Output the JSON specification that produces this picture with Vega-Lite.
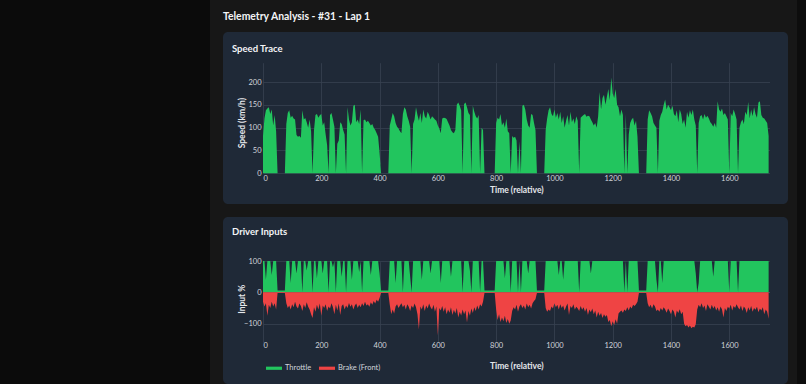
{
"$schema": "https://vega.github.io/schema/vega-lite/v6.json",
"background": "#171717",
"padding": 0,
"spacing": 13,
"resolve": {"scale": {"color": "independent"}, "legend": {"color": "independent"}},
"config": {
  "view": {"stroke": null},
  "font": "Lato",
  "axis": {"domain": false, "ticks": false, "tickSize": 0, "labelFont": "Lato", "labelFontSize": 7.5, "labelColor": "#d1d5db", "titleFont": "Lato", "titleFontSize": 8.5, "titleFontWeight": "bold", "titleColor": "#e5e7eb", "gridColor": "#374151", "gridWidth": 0.8},
  "legend": {"labelFont": "Lato"}
},
"datasets": {"tel": [
{"t":0,"s":82,"h":100,"b":-30},{"t":5,"s":120,"h":100,"b":-45},{"t":10,"s":138,"h":40,"b":-35},{"t":15,"s":142,"h":100,"b":-75},{"t":20,"s":145,"h":100,"b":-40},{"t":25,"s":130,"h":100,"b":-50},{"t":30,"s":140,"h":55,"b":-30},{"t":35,"s":105,"h":100,"b":-45},{"t":40,"s":128,"h":100,"b":-35},{"t":45,"s":92,"h":100,"b":-55},
{"t":50,"s":0,"h":6,"b":-2},{"t":55,"s":0,"h":6,"b":-2},{"t":60,"s":0,"h":6,"b":-2},{"t":65,"s":0,"h":6,"b":-2},{"t":70,"s":0,"h":6,"b":-2},{"t":75,"s":0,"h":6,"b":-2},
{"t":80,"s":108,"h":100,"b":-35},{"t":85,"s":132,"h":100,"b":-50},{"t":90,"s":138,"h":100,"b":-42},{"t":95,"s":122,"h":30,"b":-55},{"t":100,"s":126,"h":100,"b":-38},{"t":105,"s":120,"h":100,"b":-48},{"t":110,"s":118,"h":100,"b":-30},{"t":115,"s":84,"h":60,"b":-45},{"t":120,"s":80,"h":100,"b":-52},{"t":125,"s":82,"h":100,"b":-36},{"t":130,"s":78,"h":100,"b":-44},{"t":135,"s":138,"h":0,"b":-60},{"t":140,"s":118,"h":100,"b":-38},{"t":145,"s":121,"h":100,"b":-50},{"t":150,"s":112,"h":70,"b":-32},{"t":155,"s":100,"h":100,"b":-46},{"t":160,"s":118,"h":100,"b":-55},{"t":165,"s":92,"h":100,"b":-70},{"t":170,"s":0,"h":0,"b":-82},{"t":175,"s":95,"h":100,"b":-48},{"t":180,"s":128,"h":100,"b":-62},{"t":185,"s":130,"h":45,"b":-40},{"t":190,"s":122,"h":100,"b":-55},{"t":195,"s":127,"h":100,"b":-36},{"t":200,"s":130,"h":100,"b":-75},{"t":205,"s":105,"h":60,"b":-42},{"t":210,"s":112,"h":100,"b":-50},{"t":215,"s":85,"h":100,"b":-38},{"t":220,"s":62,"h":100,"b":-60},{"t":225,"s":0,"h":0,"b":-45},{"t":230,"s":128,"h":100,"b":-52},{"t":235,"s":132,"h":100,"b":-35},{"t":240,"s":118,"h":80,"b":-48},{"t":245,"s":102,"h":100,"b":-70},{"t":250,"s":0,"h":0,"b":-40},{"t":255,"s":65,"h":100,"b":-58},{"t":260,"s":72,"h":100,"b":-36},{"t":265,"s":112,"h":100,"b":-72},{"t":270,"s":108,"h":50,"b":-44},{"t":275,"s":95,"h":100,"b":-38},{"t":280,"s":85,"h":100,"b":-55},{"t":285,"s":0,"h":0,"b":-42},{"t":290,"s":145,"h":100,"b":-50},{"t":295,"s":118,"h":100,"b":-34},{"t":300,"s":105,"h":100,"b":-46},{"t":305,"s":112,"h":40,"b":-38},{"t":310,"s":148,"h":100,"b":-55},{"t":315,"s":150,"h":100,"b":-42},{"t":320,"s":112,"h":100,"b":-36},{"t":325,"s":118,"h":100,"b":-50},{"t":330,"s":108,"h":65,"b":-40},{"t":335,"s":140,"h":100,"b":-48},{"t":340,"s":0,"h":0,"b":-35},{"t":345,"s":116,"h":100,"b":-44},{"t":350,"s":118,"h":100,"b":-30},{"t":355,"s":112,"h":100,"b":-42},{"t":360,"s":115,"h":100,"b":-38},{"t":365,"s":110,"h":100,"b":-46},{"t":370,"s":105,"h":55,"b":-32},{"t":375,"s":108,"h":100,"b":-40},{"t":380,"s":100,"h":100,"b":-28},{"t":385,"s":95,"h":100,"b":-36},{"t":390,"s":88,"h":100,"b":-24},{"t":395,"s":80,"h":100,"b":-30},{"t":400,"s":45,"h":60,"b":-18},
{"t":405,"s":0,"h":6,"b":-2},{"t":410,"s":0,"h":6,"b":-2},{"t":415,"s":0,"h":6,"b":-2},{"t":420,"s":0,"h":6,"b":-2},{"t":425,"s":0,"h":6,"b":-2},{"t":430,"s":0,"h":6,"b":-2},
{"t":435,"s":105,"h":100,"b":-40},{"t":440,"s":118,"h":100,"b":-70},{"t":445,"s":132,"h":100,"b":-55},{"t":450,"s":125,"h":100,"b":-68},{"t":455,"s":110,"h":30,"b":-45},{"t":460,"s":102,"h":100,"b":-38},{"t":465,"s":98,"h":100,"b":-50},{"t":470,"s":92,"h":100,"b":-42},{"t":475,"s":88,"h":100,"b":-35},{"t":480,"s":130,"h":0,"b":-48},{"t":485,"s":145,"h":100,"b":-40},{"t":490,"s":140,"h":100,"b":-55},{"t":495,"s":125,"h":100,"b":-38},{"t":500,"s":115,"h":100,"b":-46},{"t":505,"s":102,"h":50,"b":-60},{"t":510,"s":0,"h":0,"b":-42},{"t":515,"s":108,"h":100,"b":-50},{"t":520,"s":118,"h":100,"b":-36},{"t":525,"s":145,"h":100,"b":-48},{"t":530,"s":128,"h":100,"b":-70},{"t":535,"s":115,"h":100,"b":-119},{"t":540,"s":132,"h":100,"b":-45},{"t":545,"s":110,"h":40,"b":-55},{"t":550,"s":140,"h":100,"b":-38},{"t":555,"s":125,"h":100,"b":-60},{"t":560,"s":120,"h":100,"b":-42},{"t":565,"s":135,"h":100,"b":-52},{"t":570,"s":128,"h":100,"b":-36},{"t":575,"s":118,"h":60,"b":-48},{"t":580,"s":125,"h":100,"b":-55},{"t":585,"s":122,"h":100,"b":-40},{"t":590,"s":118,"h":100,"b":-62},{"t":595,"s":115,"h":100,"b":-45},{"t":600,"s":105,"h":100,"b":-138},{"t":605,"s":98,"h":100,"b":-50},{"t":610,"s":88,"h":30,"b":-58},{"t":615,"s":120,"h":100,"b":-44},{"t":620,"s":122,"h":100,"b":-62},{"t":625,"s":121,"h":100,"b":-48},{"t":630,"s":119,"h":100,"b":-70},{"t":635,"s":112,"h":100,"b":-55},{"t":640,"s":105,"h":100,"b":-65},{"t":645,"s":95,"h":50,"b":-48},{"t":650,"s":90,"h":100,"b":-72},{"t":655,"s":88,"h":100,"b":-56},{"t":660,"s":95,"h":100,"b":-68},{"t":665,"s":150,"h":100,"b":-50},{"t":670,"s":155,"h":100,"b":-80},{"t":675,"s":148,"h":100,"b":-62},{"t":680,"s":138,"h":100,"b":-74},{"t":685,"s":0,"h":0,"b":-55},{"t":690,"s":152,"h":100,"b":-70},{"t":695,"s":155,"h":100,"b":-58},{"t":700,"s":145,"h":100,"b":-96},{"t":705,"s":132,"h":100,"b":-60},{"t":710,"s":128,"h":70,"b":-75},{"t":715,"s":0,"h":0,"b":-52},{"t":720,"s":148,"h":100,"b":-66},{"t":725,"s":135,"h":100,"b":-48},{"t":730,"s":125,"h":100,"b":-60},{"t":735,"s":120,"h":100,"b":-42},{"t":740,"s":128,"h":100,"b":-55},{"t":745,"s":0,"h":0,"b":-38},{"t":750,"s":100,"h":100,"b":-45},{"t":755,"s":95,"h":100,"b":-30},
{"t":760,"s":0,"h":6,"b":-2},{"t":765,"s":0,"h":6,"b":-2},{"t":770,"s":0,"h":6,"b":-2},{"t":775,"s":0,"h":6,"b":-2},{"t":780,"s":0,"h":6,"b":-2},{"t":785,"s":0,"h":6,"b":-2},{"t":790,"s":0,"h":6,"b":-2},{"t":795,"s":0,"h":6,"b":-2},
{"t":800,"s":110,"h":100,"b":-55},{"t":805,"s":122,"h":100,"b":-88},{"t":810,"s":118,"h":100,"b":-70},{"t":815,"s":130,"h":100,"b":-95},{"t":820,"s":105,"h":100,"b":-80},{"t":825,"s":112,"h":100,"b":-92},{"t":830,"s":100,"h":45,"b":-75},{"t":835,"s":120,"h":100,"b":-98},{"t":840,"s":92,"h":100,"b":-85},{"t":845,"s":88,"h":100,"b":-100},{"t":850,"s":0,"h":0,"b":-90},{"t":855,"s":82,"h":100,"b":-60},{"t":860,"s":78,"h":100,"b":-48},{"t":865,"s":80,"h":100,"b":-55},{"t":870,"s":72,"h":100,"b":-40},{"t":875,"s":0,"h":0,"b":-62},{"t":880,"s":70,"h":100,"b":-45},{"t":885,"s":0,"h":0,"b":-38},{"t":890,"s":148,"h":100,"b":-50},{"t":895,"s":150,"h":100,"b":-42},{"t":900,"s":140,"h":100,"b":-55},{"t":905,"s":118,"h":100,"b":-36},{"t":910,"s":105,"h":60,"b":-48},{"t":915,"s":100,"h":100,"b":-40},{"t":920,"s":130,"h":100,"b":-52},{"t":925,"s":128,"h":100,"b":-35},{"t":930,"s":110,"h":100,"b":-28},{"t":935,"s":95,"h":100,"b":-22},
{"t":940,"s":0,"h":6,"b":-2},{"t":945,"s":0,"h":6,"b":-2},{"t":950,"s":0,"h":6,"b":-2},{"t":955,"s":0,"h":6,"b":-2},{"t":960,"s":0,"h":6,"b":-2},{"t":965,"s":0,"h":6,"b":-2},
{"t":970,"s":95,"h":100,"b":-50},{"t":975,"s":120,"h":100,"b":-62},{"t":980,"s":138,"h":100,"b":-55},{"t":985,"s":145,"h":100,"b":-60},{"t":990,"s":130,"h":100,"b":-45},{"t":995,"s":125,"h":100,"b":-52},{"t":1000,"s":140,"h":100,"b":-35},{"t":1005,"s":122,"h":100,"b":-48},{"t":1010,"s":132,"h":100,"b":-40},{"t":1015,"s":118,"h":55,"b":-55},{"t":1020,"s":135,"h":100,"b":-38},{"t":1025,"s":110,"h":100,"b":-50},{"t":1030,"s":125,"h":40,"b":-42},{"t":1035,"s":100,"h":100,"b":-58},{"t":1040,"s":115,"h":100,"b":-45},{"t":1045,"s":128,"h":100,"b":-36},{"t":1050,"s":105,"h":100,"b":-72},{"t":1055,"s":135,"h":100,"b":-44},{"t":1060,"s":112,"h":100,"b":-50},{"t":1065,"s":120,"h":100,"b":-38},{"t":1070,"s":108,"h":100,"b":-55},{"t":1075,"s":125,"h":100,"b":-46},{"t":1080,"s":115,"h":100,"b":-52},{"t":1085,"s":0,"h":0,"b":-60},{"t":1090,"s":122,"h":100,"b":-44},{"t":1095,"s":125,"h":100,"b":-56},{"t":1100,"s":128,"h":100,"b":-48},{"t":1105,"s":130,"h":100,"b":-62},{"t":1110,"s":124,"h":100,"b":-50},{"t":1115,"s":126,"h":100,"b":-72},{"t":1120,"s":125,"h":100,"b":-55},{"t":1125,"s":118,"h":60,"b":-64},{"t":1130,"s":112,"h":100,"b":-52},{"t":1135,"s":105,"h":100,"b":-70},{"t":1140,"s":110,"h":100,"b":-58},{"t":1145,"s":100,"h":100,"b":-80},{"t":1150,"s":125,"h":100,"b":-62},{"t":1155,"s":178,"h":100,"b":-75},{"t":1160,"s":140,"h":100,"b":-66},{"t":1165,"s":165,"h":100,"b":-82},{"t":1170,"s":172,"h":100,"b":-70},{"t":1175,"s":150,"h":100,"b":-78},{"t":1180,"s":168,"h":100,"b":-72},{"t":1185,"s":185,"h":100,"b":-95},{"t":1190,"s":160,"h":100,"b":-88},{"t":1195,"s":210,"h":100,"b":-108},{"t":1200,"s":175,"h":100,"b":-92},{"t":1205,"s":165,"h":100,"b":-104},{"t":1210,"s":185,"h":100,"b":-86},{"t":1215,"s":150,"h":100,"b":-100},{"t":1220,"s":145,"h":100,"b":-68},{"t":1225,"s":125,"h":100,"b":-62},{"t":1230,"s":140,"h":100,"b":-58},{"t":1235,"s":128,"h":100,"b":-65},{"t":1240,"s":0,"h":0,"b":-55},{"t":1245,"s":130,"h":100,"b":-60},{"t":1250,"s":0,"h":0,"b":-48},{"t":1255,"s":85,"h":100,"b":-58},{"t":1260,"s":110,"h":100,"b":-45},{"t":1265,"s":118,"h":100,"b":-52},{"t":1270,"s":122,"h":100,"b":-40},{"t":1275,"s":105,"h":100,"b":-44},{"t":1280,"s":115,"h":100,"b":-38},{"t":1285,"s":80,"h":100,"b":-30},
{"t":1290,"s":0,"h":6,"b":-2},{"t":1295,"s":0,"h":6,"b":-2},{"t":1300,"s":0,"h":6,"b":-2},{"t":1305,"s":0,"h":6,"b":-2},{"t":1310,"s":0,"h":6,"b":-2},{"t":1315,"s":0,"h":6,"b":-2},
{"t":1320,"s":118,"h":100,"b":-35},{"t":1325,"s":138,"h":100,"b":-48},{"t":1330,"s":132,"h":100,"b":-40},{"t":1335,"s":125,"h":100,"b":-52},{"t":1340,"s":110,"h":100,"b":-38},{"t":1345,"s":105,"h":100,"b":-45},{"t":1350,"s":100,"h":40,"b":-60},{"t":1355,"s":0,"h":0,"b":-55},{"t":1360,"s":115,"h":100,"b":-62},{"t":1365,"s":128,"h":100,"b":-50},{"t":1370,"s":135,"h":30,"b":-58},{"t":1375,"s":150,"h":100,"b":-48},{"t":1380,"s":162,"h":100,"b":-55},{"t":1385,"s":140,"h":100,"b":-65},{"t":1390,"s":150,"h":100,"b":-52},{"t":1395,"s":145,"h":100,"b":-60},{"t":1400,"s":138,"h":100,"b":-70},{"t":1405,"s":148,"h":100,"b":-55},{"t":1410,"s":130,"h":100,"b":-62},{"t":1415,"s":125,"h":100,"b":-80},{"t":1420,"s":138,"h":100,"b":-58},{"t":1425,"s":112,"h":100,"b":-66},{"t":1430,"s":140,"h":100,"b":-54},{"t":1435,"s":130,"h":100,"b":-70},{"t":1440,"s":108,"h":100,"b":-62},{"t":1445,"s":118,"h":100,"b":-100},{"t":1450,"s":100,"h":100,"b":-108},{"t":1455,"s":135,"h":100,"b":-104},{"t":1460,"s":122,"h":100,"b":-112},{"t":1465,"s":138,"h":100,"b":-106},{"t":1470,"s":128,"h":100,"b":-115},{"t":1475,"s":140,"h":100,"b":-110},{"t":1480,"s":118,"h":100,"b":-112},{"t":1485,"s":105,"h":60,"b":-102},{"t":1490,"s":0,"h":0,"b":-55},{"t":1495,"s":110,"h":30,"b":-40},{"t":1500,"s":125,"h":100,"b":-48},{"t":1505,"s":128,"h":100,"b":-35},{"t":1510,"s":118,"h":100,"b":-50},{"t":1515,"s":130,"h":100,"b":-42},{"t":1520,"s":122,"h":100,"b":-60},{"t":1525,"s":126,"h":100,"b":-38},{"t":1530,"s":120,"h":100,"b":-46},{"t":1535,"s":112,"h":100,"b":-55},{"t":1540,"s":108,"h":100,"b":-40},{"t":1545,"s":102,"h":50,"b":-52},{"t":1550,"s":110,"h":100,"b":-44},{"t":1555,"s":100,"h":100,"b":-58},{"t":1560,"s":158,"h":100,"b":-48},{"t":1565,"s":140,"h":100,"b":-62},{"t":1570,"s":135,"h":100,"b":-45},{"t":1575,"s":142,"h":100,"b":-55},{"t":1580,"s":128,"h":100,"b":-80},{"t":1585,"s":132,"h":100,"b":-50},{"t":1590,"s":125,"h":100,"b":-60},{"t":1595,"s":118,"h":100,"b":-46},{"t":1600,"s":0,"h":0,"b":-52},{"t":1605,"s":132,"h":100,"b":-40},{"t":1610,"s":125,"h":100,"b":-58},{"t":1615,"s":140,"h":100,"b":-44},{"t":1620,"s":130,"h":100,"b":-50},{"t":1625,"s":118,"h":100,"b":-38},{"t":1630,"s":0,"h":0,"b":-48},{"t":1635,"s":100,"h":100,"b":-55},{"t":1640,"s":112,"h":100,"b":-42},{"t":1645,"s":118,"h":100,"b":-60},{"t":1650,"s":108,"h":100,"b":-45},{"t":1655,"s":135,"h":100,"b":-52},{"t":1660,"s":128,"h":100,"b":-66},{"t":1665,"s":156,"h":100,"b":-48},{"t":1670,"s":120,"h":100,"b":-58},{"t":1675,"s":140,"h":100,"b":-44},{"t":1680,"s":125,"h":100,"b":-62},{"t":1685,"s":145,"h":100,"b":-50},{"t":1690,"s":130,"h":100,"b":-56},{"t":1695,"s":122,"h":100,"b":-46},{"t":1700,"s":155,"h":100,"b":-64},{"t":1705,"s":158,"h":100,"b":-52},{"t":1710,"s":128,"h":100,"b":-58},{"t":1715,"s":122,"h":100,"b":-48},{"t":1720,"s":120,"h":100,"b":-70},{"t":1725,"s":115,"h":100,"b":-55},{"t":1730,"s":110,"h":100,"b":-62},{"t":1735,"s":82,"h":100,"b":-84}
]},
"hconcat": [
  {"width": 210, "height": 384, "data": {"values": []}, "mark": "point", "view": {"fill": "#0b0b0b", "stroke": null}},
  {"spacing": 9,
   "resolve": {"scale": {"color": "independent"}, "legend": {"color": "independent"}},
   "hconcat": [
    {"spacing": 13,
     "bounds": "flush",
     "resolve": {"scale": {"color": "independent"}, "legend": {"color": "independent"}},
     "vconcat": [
      {"width": 565, "height": 19,
       "data": {"values": []}, "mark": "point",
       "view": {"fill": null, "stroke": null},
       "title": {"text": "Telemetry Analysis - #31 - Lap 1", "anchor": "start", "frame": "group", "orient": "top", "offset": -30, "baseline": "alphabetic", "fontSize": 10.4, "fontWeight": "bold", "color": "#f3f4f6", "font": "Lato"}
      },
      {"width": 565, "height": 172,
       "view": {"fill": "#1f2937", "stroke": null, "cornerRadius": 5},
       "title": {"text": "Speed Trace", "anchor": "start", "frame": "group", "orient": "top", "offset": -29.5, "dx": 9, "baseline": "alphabetic", "fontSize": 9.5, "fontWeight": "bold", "color": "#f3f4f6", "font": "Lato"},
       "data": {"name": "tel"},
       "mark": {"type": "area", "color": "#22c55e"},
       "encoding": {
         "x": {"field": "t", "type": "quantitative", "scale": {"domain": [0, 1738], "range": [40, 546.5], "nice": false, "zero": false},
               "axis": {"title": "Time (relative)", "offset": -31, "values": [0, 200, 400, 600, 800, 1000, 1200, 1400, 1600], "format": "d", "labelPadding": 1, "titleY": 16.7, "titleBaseline": "middle"}},
         "y": {"field": "s", "type": "quantitative", "scale": {"domain": [0, 222], "range": [141.3, 40], "nice": false},
               "axis": {"title": "Speed (km/h)", "offset": -40, "values": [0, 50, 100, 150, 200], "format": "d", "labelPadding": 2, "titleX": -22, "titleBaseline": "middle"}}
       }
      },
      {"width": 565, "height": 167,
       "view": {"fill": "#1f2937", "stroke": null, "cornerRadius": 5},
       "title": {"text": "Driver Inputs", "anchor": "start", "frame": "group", "orient": "top", "offset": -27, "dx": 9, "baseline": "alphabetic", "fontSize": 9.5, "fontWeight": "bold", "color": "#f3f4f6", "font": "Lato"},
       "data": {"name": "tel"},
       "encoding": {
         "x": {"field": "t", "type": "quantitative", "scale": {"domain": [0, 1738], "range": [40, 546.5], "nice": false, "zero": false},
               "axis": {"title": "Time (relative)", "offset": -44.7, "values": [0, 200, 400, 600, 800, 1000, 1200, 1400, 1600], "format": "d", "labelPadding": 2.5, "titleY": 26.4, "titleBaseline": "middle"}}
       },
       "layer": [
         {"mark": {"type": "area"},
          "encoding": {
            "y": {"field": "h", "type": "quantitative", "scale": {"domain": [-150, 109], "range": [122.3, 41.2], "nice": false},
                  "axis": {"title": "Input %", "offset": -40, "values": [-100, 0, 100], "format": "d", "labelPadding": 2, "titleX": -22, "titleBaseline": "middle",
                           "gridColor": {"condition": {"test": "datum.value === 0", "value": "#4b5563"}, "value": "#374151"}}},
            "color": {"datum": "Throttle", "scale": {"domain": ["Throttle", "Brake (Front)"], "range": ["#22c55e", "#ef4444"]},
                      "legend": {"orient": "none", "legendX": 43, "legendY": 143, "direction": "horizontal", "title": null, "padding": 0, "symbolType": "M-1,-0.2H1V0.2H-1Z", "symbolSize": 256, "symbolStrokeWidth": 0, "labelFontSize": 7.5, "labelColor": "#d1d5db", "labelOffset": 3, "columnPadding": 7}}
          }},
         {"mark": {"type": "area"},
          "encoding": {
            "y": {"field": "b", "type": "quantitative"},
            "color": {"datum": "Brake (Front)"}
          }}
       ]
      }
    ]},
    {"width": 9, "height": 384, "data": {"values": []}, "mark": "point", "view": {"fill": "#0d0d0d", "stroke": null}}
  ]}
]
}
